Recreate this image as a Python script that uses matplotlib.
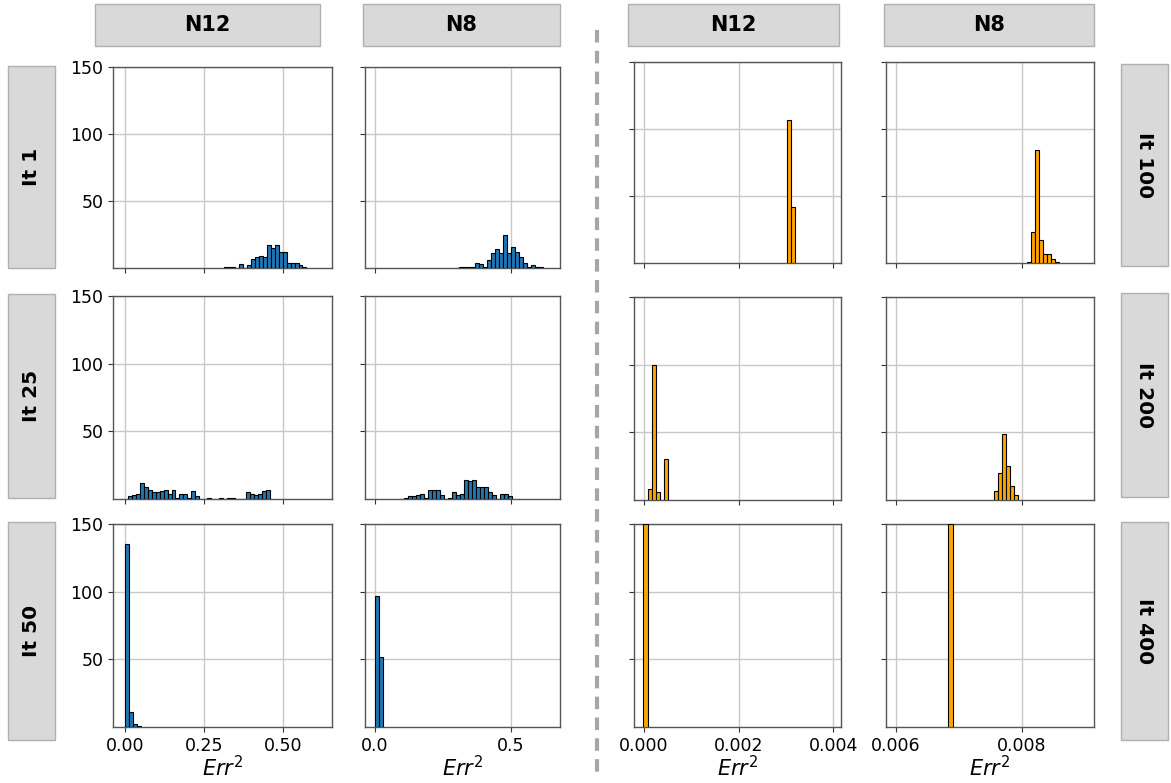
import matplotlib
matplotlib.use('Agg')
import matplotlib.pyplot as plt
import numpy as np
from matplotlib.patches import Rectangle
from matplotlib.lines import Line2D

# 画布尺寸（像素）
W, H = 1171, 783

col_titles = ['N12', 'N8', 'N12', 'N8']
left_rows = ['It 1', 'It 25', 'It 50']
right_rows = ['It 100', 'It 200', 'It 400']

# 各子图直方图：起始边、箱宽、计数
it1_n12_start, it1_n12_width = 0.3125, 0.0125
it1_n12_counts = [1, 1, 1, 0, 3, 0, 2, 7, 8, 9, 8, 17, 15, 17, 12, 12, 4, 4, 4, 2, 1]
it1_n8_start, it1_n8_width = 0.295, 0.0147
it1_n8_counts = [0, 1, 1, 1, 1, 4, 3, 1, 6, 11, 14, 11, 25, 11, 16, 12, 8, 4, 1, 2, 1, 1]
it25_n12_start, it25_n12_width = 0.01, 0.0125
it25_n12_counts = [2, 3, 4, 12, 9, 7, 5, 5, 6, 7, 4, 7, 1, 4, 4, 1, 6, 2, 0, 0,
                   1, 0, 0, 1, 0, 1, 1, 0, 0, 0, 5, 4, 3, 4, 6, 7]
it25_n8_start, it25_n8_width = 0.092, 0.0147
it25_n8_counts = [0, 1, 2, 2, 3, 4, 1, 7, 7, 7, 3, 0, 1, 5, 3, 4, 14, 13, 14, 9,
                  9, 9, 5, 3, 0, 4, 4, 2]
it50_n12_start, it50_n12_width = 0.0, 0.0127
it50_n12_counts = [135, 11, 2, 1]
it50_n8_start, it50_n8_width = 0.0, 0.0147
it50_n8_counts = [97, 52]

it100_n12_start, it100_n12_width = 0.00301, 0.0000845
it100_n12_counts = [107, 42]
it100_n8_start, it100_n8_width = 0.00808, 0.0000635
it100_n8_counts = [1, 23, 84, 17, 7, 7, 3, 1]
it200_n12_start, it200_n12_width = 0.00008, 0.0000845
it200_n12_counts = [8, 100, 6, 0, 30]
it200_n8_start, it200_n8_width = 0.007549, 0.0000635
it200_n8_counts = [7, 20, 49, 25, 10, 4]
it400_n12_start, it400_n12_width = -0.00002, 0.0001
it400_n12_counts = [150]
it400_n8_start, it400_n8_width = 0.00683, 0.0000746
it400_n8_counts = [150]

panels = [
    [(it1_n12_start, it1_n12_width, it1_n12_counts), (it1_n8_start, it1_n8_width, it1_n8_counts),
     (it100_n12_start, it100_n12_width, it100_n12_counts), (it100_n8_start, it100_n8_width, it100_n8_counts)],
    [(it25_n12_start, it25_n12_width, it25_n12_counts), (it25_n8_start, it25_n8_width, it25_n8_counts),
     (it200_n12_start, it200_n12_width, it200_n12_counts), (it200_n8_start, it200_n8_width, it200_n8_counts)],
    [(it50_n12_start, it50_n12_width, it50_n12_counts), (it50_n8_start, it50_n8_width, it50_n8_counts),
     (it400_n12_start, it400_n12_width, it400_n12_counts), (it400_n8_start, it400_n8_width, it400_n8_counts)],
]

col_xlim = [(-0.038, 0.656), (-0.037, 0.682), (-0.00021, 0.00416), (0.005841, 0.009143)]
col_xticks = [[0.0, 0.25, 0.5], [0.0, 0.5], [0.0, 0.002, 0.004], [0.006, 0.008]]
col_xticklabels = [['0.00', '0.25', '0.50'], ['0.0', '0.5'],
                   ['0.000', '0.002', '0.004'], ['0.006', '0.008']]
col_colors = ['#1f77b4', '#1f77b4', '#ffa500', '#ffa500']

# 像素位置
col_lr = [(113, 332), (365, 560), (634, 841), (886, 1094)]
row_tb_left = [(67, 268), (296, 499), (524, 727)]
row_tb_right = [(62, 263), (297, 500), (524, 727)]


def fbox(l, t, r, b):
    return [l / W, 1 - b / H, (r - l) / W, (b - t) / H]


fig = plt.figure(figsize=(W / 100, H / 100), dpi=100)
fig.patch.set_facecolor('white')

for i in range(3):
    for j in range(4):
        l, r = col_lr[j]
        t, b = row_tb_left[i] if j < 2 else row_tb_right[i]
        ax = fig.add_axes(fbox(l, t, r, b))
        start, width, counts = panels[i][j]
        edges = start + width * np.arange(len(counts))
        ax.bar(edges, counts, width=width, align='edge', color=col_colors[j],
               edgecolor='black', linewidth=0.8, zorder=3)
        ax.set_xlim(col_xlim[j])
        ax.set_ylim(0, 150)
        ax.set_yticks([50, 100, 150])
        ax.set_xticks(col_xticks[j])
        ax.grid(True, color='#c8c8c8', linewidth=1.0, zorder=0)
        ax.set_axisbelow(True)
        for s in ax.spines.values():
            s.set_color('#555555')
            s.set_linewidth(1.0)
        ax.tick_params(labelsize=12.5, length=3.5, color='#333333')
        if j == 0:
            ax.set_yticklabels(['50', '100', '150'])
        else:
            ax.set_yticklabels([])
        if i == 2:
            ax.set_xticklabels(col_xticklabels[j])
            ax.set_xlabel('$Err^2$', fontsize=15, labelpad=0)
        else:
            ax.set_xticklabels([])

# 列标题
head_boxes = [(95, 320), (363, 560), (628, 839), (884, 1094)]
for (l, r), title in zip(head_boxes, col_titles):
    fig.patches.append(Rectangle((l / W, 1 - 46 / H), (r - l) / W, 42 / H,
                                 transform=fig.transFigure, facecolor='#d9d9d9',
                                 edgecolor='#b0b0b0', linewidth=1))
    fig.text((l + r) / 2 / W, 1 - 25 / H, title, ha='center', va='center',
             fontsize=15, fontweight='bold')

# 行标题
left_boxes = [(66, 268), (294, 498), (522, 740)]
for (t, b), lab in zip(left_boxes, left_rows):
    fig.patches.append(Rectangle((8 / W, 1 - b / H), 47 / W, (b - t) / H,
                                 transform=fig.transFigure, facecolor='#d9d9d9',
                                 edgecolor='#b0b0b0', linewidth=1))
    fig.text(31.5 / W, 1 - (t + b) / 2 / H, lab, ha='center', va='center',
             rotation=90, fontsize=14.5, fontweight='bold')

right_boxes = [(64, 266), (293, 497), (522, 740)]
for (t, b), lab in zip(right_boxes, right_rows):
    fig.patches.append(Rectangle((1121 / W, 1 - b / H), 47 / W, (b - t) / H,
                                 transform=fig.transFigure, facecolor='#d9d9d9',
                                 edgecolor='#b0b0b0', linewidth=1))
    fig.text(1144.5 / W, 1 - (t + b) / 2 / H, lab, ha='center', va='center',
             rotation=270, fontsize=14.5, fontweight='bold')

# 中间虚线
fig.lines.append(Line2D([597 / W, 597 / W], [1 - 30 / H, 1 - 778 / H],
                        transform=fig.transFigure, color='#a6a6a6',
                        linewidth=3, linestyle=(0, (3, 2))))

fig.savefig('out.png', dpi=100)
